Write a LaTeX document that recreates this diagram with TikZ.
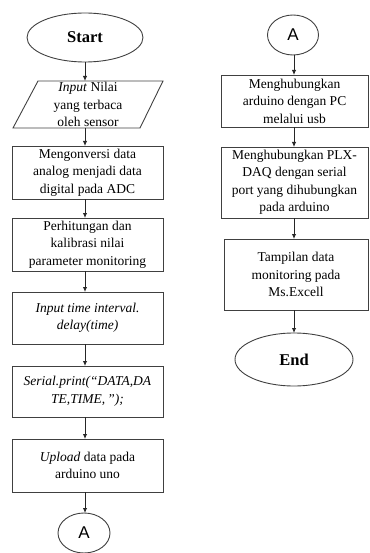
\documentclass[tikz,border=0pt]{standalone}
\usepackage{fontspec}
\setmainfont{Liberation Serif}
\newfontfamily\afont{Liberation Sans}
\usetikzlibrary{shapes.geometric,arrows.meta}
\begin{document}
\begin{tikzpicture}[x=1pt,y=-1pt,
  every node/.style={inner sep=0pt,outer sep=0pt},
  shapeline/.style={draw=black!75,line width=0.9pt},
  boxnode/.style={shapeline,rectangle,align=center,font=\fontsize{13.5}{17.5}\selectfont},
  termnode/.style={shapeline,ellipse,font=\fontsize{16.5}{19}\selectfont\bfseries},
  connnode/.style={shapeline,ellipse,font=\fontsize{17}{20}\selectfont\afont},
  arr/.style={draw=black!85,line width=0.9pt,-{Latex[length=5pt,width=4.5pt]}}]
\useasboundingbox (0,0) rectangle (369,553);
% left column
\node[termnode,minimum width=116pt,minimum height=49pt] (start) at (85,37.5) {Start};
\node[align=center,font=\fontsize{13.5}{17.5}\selectfont,minimum width=150pt,minimum height=47pt] (inp) at (88,104.5) {\textit{Input} Nilai\\yang terbaca\\oleh sensor};
\draw[shapeline] ([xshift=25pt]inp.north west) -- ([xshift=0pt]inp.north east) -- ([xshift=-23pt]inp.south east) -- (inp.south west) -- cycle;
\node[boxnode,minimum width=151pt,minimum height=53pt] (b1) at (87.5,172.5) {Mengonversi data\\analog menjadi data\\digital pada ADC};
\node[boxnode,minimum width=151pt,minimum height=53pt] (b2) at (87.5,244.5) {Perhitungan dan\\kalibrasi nilai\\parameter monitoring};
\node[boxnode,minimum width=151pt,minimum height=52pt] (b3) at (87.5,318) {\textit{Input time interval.}\\\textit{delay(time)}};
\node[boxnode,minimum width=151pt,minimum height=51pt] (b4) at (87.5,391.5) {\textit{Serial.print(“DATA,DA}\\\textit{TE,TIME,\,”);}};
\node[boxnode,minimum width=151pt,minimum height=53pt] (b5) at (87.5,465.5) {\textit{Upload} data pada\\arduino uno};
\node[connnode,minimum width=52pt,minimum height=40pt] (a1) at (84,533) {A};
% right column
\node[connnode,minimum width=51pt,minimum height=40pt] (a2) at (293,35) {A};
\node[boxnode,minimum width=147pt,minimum height=52pt] (r1) at (294.5,101) {Menghubungkan\\arduino dengan PC\\melalui usb};
\node[boxnode,minimum width=147pt,minimum height=71pt] (r2) at (294.5,182.5) {Menghubungkan PLX-\\DAQ dengan serial\\port yang dihubungkan\\pada arduino};
\node[boxnode,minimum width=144pt,minimum height=71pt] (r3) at (296,274.5) {Tampilan data\\monitoring pada\\Ms.Excell};
\node[termnode,minimum width=118pt,minimum height=53pt] (end) at (294,359.5) {End};
% connectors
\draw[arr] (start.south) -- (start.south |- inp.north);
\draw[arr] (inp.south -| start.south) -- (start.south |- b1.north);
\draw[arr] (b1.south -| start.south) -- (start.south |- b2.north);
\draw[arr] (b2.south -| start.south) -- (start.south |- b3.north);
\draw[arr] (b3.south -| start.south) -- (start.south |- b4.north);
\draw[arr] (b4.south -| start.south) -- (start.south |- b5.north);
\draw[arr] (b5.south -| start.south) -- (start.south |- a1.north);
\draw[arr] (a2.south -| end.north) -- (end.north |- r1.north);
\draw[arr] (r1.south -| end.north) -- (end.north |- r2.north);
\draw[arr] (r2.south -| end.north) -- (end.north |- r3.north);
\draw[arr] (r3.south -| end.north) -- (end.north);
\end{tikzpicture}
\end{document}
